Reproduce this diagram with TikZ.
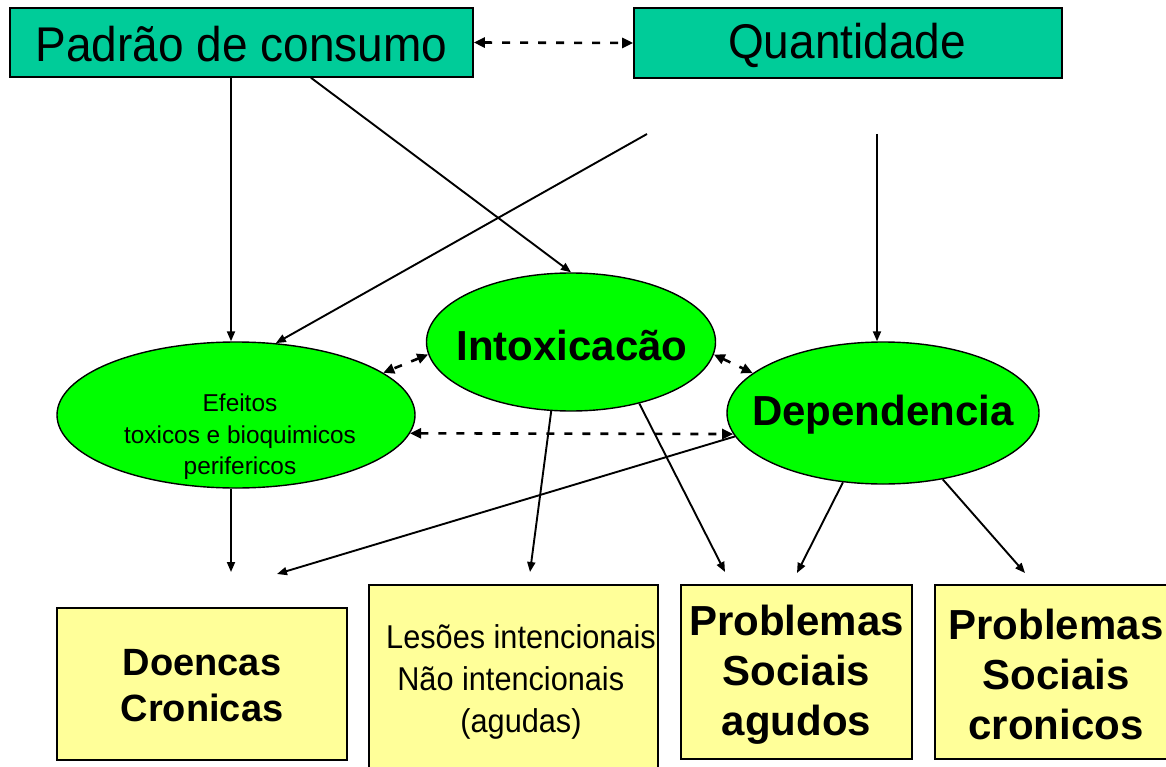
\documentclass[tikz,border=0pt]{standalone}
\usepackage{fontspec}
\setmainfont{Liberation Sans}
\usetikzlibrary{shapes.geometric,arrows.meta}
\definecolor{tealbox}{RGB}{0,204,153}
\definecolor{greenell}{RGB}{0,255,0}
\definecolor{yellowbox}{RGB}{255,255,153}
\begin{document}
\begin{tikzpicture}[x=1pt,y=-1pt,
  topbox/.style={draw=black, line width=1.6pt, fill=tealbox, inner sep=0pt},
  ell/.style={ellipse, draw=black, line width=1.4pt, fill=greenell, inner sep=0pt},
  botbox/.style={draw=black, line width=1.6pt, fill=yellowbox, inner sep=0pt},
  arr/.style={-{Triangle[length=10pt,width=8pt]}, line width=1.9pt},
  darr/.style={{Triangle[length=11pt,width=10pt]}-{Triangle[length=11pt,width=10pt]}, line width=2.6pt, dash pattern=on 8pt off 10pt}
]
\fill[white] (0,0) rectangle (1166,767);
\clip (0,0) rectangle (1166,767);
% top boxes
\node[topbox, minimum width=463pt, minimum height=69pt] (padrao) at (241.5,42.5) {};
\node (padraotxt) at (241.5,44)
  {\fontsize{46}{55}\selectfont\scalebox{1}[1.06]{Padrão de consumo}};
\node[topbox, minimum width=428pt, minimum height=70pt] (quant) at (848,43) {};
\node (quanttxt) at (847,45)
  {\fontsize{46}{55}\selectfont\scalebox{1}[1.06]{Quantidade}};
% ellipses
\node[ell, minimum width=358pt, minimum height=146pt] (efeitos) at (236,415) {};
\node[align=center, font=\fontsize{24.4}{31.5}\selectfont] (efeitostxt) at (240,437)
  {Efeitos\\toxicos e bioquimicos\\perifericos};
\node[ell, minimum width=289pt, minimum height=138pt] (intox) at (571,342) {};
\node[font=\fontsize{42}{50}\selectfont\bfseries] (intoxtxt) at (572,345) {Intoxicacão};
\node[ell, minimum width=312pt, minimum height=142pt] (dep) at (883,413) {};
\node[font=\fontsize{42}{50}\selectfont\bfseries] (deptxt) at (883,415) {Dependencia};
% bottom boxes
\node[botbox, minimum width=290pt, minimum height=152pt] (doencas) at (202,684) {};
\node[align=center, font=\fontsize{38}{46}\selectfont\bfseries] (doencastxt) at (202,686) {Doencas\\Cronicas};
\node[botbox, minimum width=289pt, minimum height=210pt] (lesoes) at (513.5,690) {};
\node[align=center, font=\fontsize{33}{42}\selectfont] (lesoestxt) at (521,682)
  {\scalebox{0.93}[1]{Lesões intencionais}\\\scalebox{0.93}[1]{Não intencionais\hspace{22pt}}\\\scalebox{0.93}[1]{(agudas)}};
\node[botbox, minimum width=231pt, minimum height=174pt] (proba) at (796.5,672) {};
\node[align=center, font=\fontsize{42}{50}\selectfont\bfseries] (probatxt) at (796.5,675) {Problemas\\Sociais\\agudos};
\node[botbox, minimum width=242pt, minimum height=174pt] (probc) at (1056,672) {};
\node[align=center, font=\fontsize{42}{50}\selectfont\bfseries] (probctxt) at (1056,674) {Problemas\\Sociais\\cronicos};
% free ends
\coordinate (q1) at (647,134);
\coordinate (q2) at (877,134);
\coordinate (d1) at (231,572);
\coordinate (d2) at (277,574);
\coordinate (l1) at (530,572);
\coordinate (a1) at (725,572);
\coordinate (a2) at (797,573);
\coordinate (c1) at (1025,573);
% solid arrows
\draw[arr] (d1 |- padrao.south) -- (d1 |- efeitos.north);
\draw[arr] ([xshift=69.5pt]padrao.south) -- (intox.north);
\draw[arr] (q1) -- (efeitos.61);
\draw[arr] (q2) -- (q2 |- dep.north);
\draw[arr] (d1 |- efeitos.south) -- (d1);
\draw[arr] (dep.189) -- (d2);
\draw[arr] (intox.254) -- (l1);
\draw[arr] (intox.-42) -- (a1);
\draw[arr] (dep.240) -- (a2);
\draw[arr] (dep.-48) -- (c1);
% dashed arrows
\draw[darr] (padrao.east) -- (quant.west);
\draw[darr] (intox.185) -- (efeitos.16);
\draw[darr] (intox.-5) -- (dep.163);
\draw[darr] (efeitos.-6) -- (dep.188);
\end{tikzpicture}
\end{document}
